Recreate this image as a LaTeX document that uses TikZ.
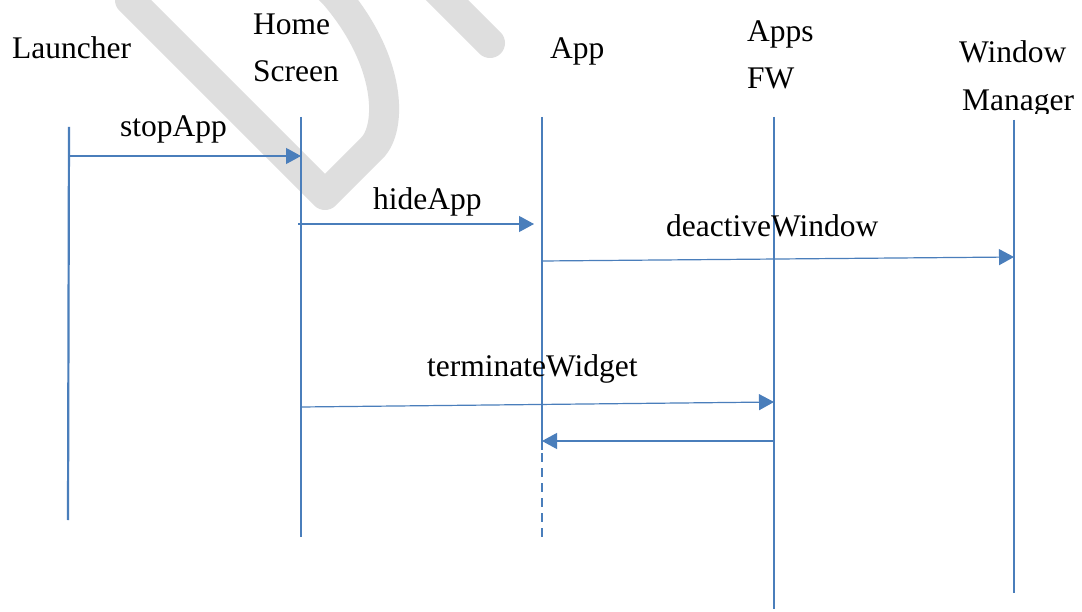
\documentclass[tikz,border=0pt]{standalone}
\usepackage{fontspec}
\setmainfont{Liberation Serif}
\usetikzlibrary{arrows.meta}
\definecolor{lifeblue}{HTML}{4A7EBB}
\definecolor{msgblue}{HTML}{5A8AC6}
\definecolor{wmgrey}{HTML}{DEDEDE}
\tikzset{
  lifeline/.style={draw=lifeblue, line width=2.2pt},
  deadline/.style={draw=lifeblue, line width=2.2pt, dash pattern=on 9pt off 6pt},
  msg/.style={draw=msgblue, line width=1.2pt, -{Triangle[length=15pt,width=16pt]}, color=lifeblue},
  lbl/.style={anchor=base west, inner sep=0pt, font=\fontsize{31.5}{36}\selectfont, text=black},
  watermark/.style={draw=wmgrey, line width=30pt, line cap=round, line join=round}
}
\begin{document}
\begin{tikzpicture}[x=1pt,y=-1pt]
\useasboundingbox (0,0) rectangle (1082,612);
\fill[white] (0,0) rectangle (1082,612);
% watermark strokes
\draw[watermark] (130,-20) -- (130,0) -- (325,195) -- (372,148)
  .. controls (392,128) and (392,62) .. (335,-5) -- (320,-20);
\draw[watermark] (427,-20) -- (490,43);
% labels
\node[lbl] (tLauncher) at (12,59) {Launcher};
\node[lbl] (tHome) at (253,35) {Home};
\node[lbl] (tScreen) at (253,82) {Screen};
\node[lbl] (tApp) at (550,59) {App};
\node[lbl] (tApps) at (747,42) {Apps};
\node[lbl] (tFW) at (747,89) {FW};
\node[lbl] (tWindow) at (959,63) {Window};
\begin{scope}
\clip (900,0) rectangle (1082,114);
\node[lbl] (tManager) at (962,111) {Manager};
\end{scope}
% lifeline ends
\coordinate (Ltop) at (69,127);   \coordinate (Lbot) at (68,520);
\coordinate (Htop) at (301,117);  \coordinate (Hbot) at (301,537);
\coordinate (Atop) at (542,117);  \coordinate (Amid) at (542,450); \coordinate (Abot) at (542,540);
\coordinate (Ftop) at (774,117);  \coordinate (Fbot) at (774,609);
\coordinate (Wtop) at (1014,120); \coordinate (Wbot) at (1014,593);
\draw[lifeline] (Ltop) -- (Lbot);
\draw[lifeline] (Htop) -- (Hbot);
\draw[lifeline] (Atop) -- (Amid);
\draw[deadline] (Amid) ++(0,3) -- (Abot);
\draw[lifeline] (Ftop) -- (Fbot);
\draw[lifeline] (Wtop) -- (Wbot);
% message points
\coordinate (m1s) at (69,156);   \coordinate (m1e) at (301,156);
\coordinate (m2s) at (298,224);  \coordinate (m2e) at (534,224);
\coordinate (m3s) at (542,261);  \coordinate (m3e) at (1014,257);
\coordinate (m4s) at (301,407);  \coordinate (m4e) at (774,402);
\coordinate (m5s) at (774,441);  \coordinate (m5e) at (542,441);
\draw[msg] (m1s) -- (m1e);
\draw[msg] (m2s) -- (m2e);
\draw[msg] (m3s) -- (m3e);
\draw[msg] (m4s) -- (m4e);
\draw[msg] (m5s) -- (m5e);
% message labels
\node[lbl] (lStop) at (120,137) {stopApp};
\node[lbl] (lHide) at (373,210) {hideApp};
\node[lbl] (lDeact) at (666,237) {deactiveWindow};
\node[lbl] (lTerm) at (427,377) {terminateWidget};
\end{tikzpicture}
\end{document}
